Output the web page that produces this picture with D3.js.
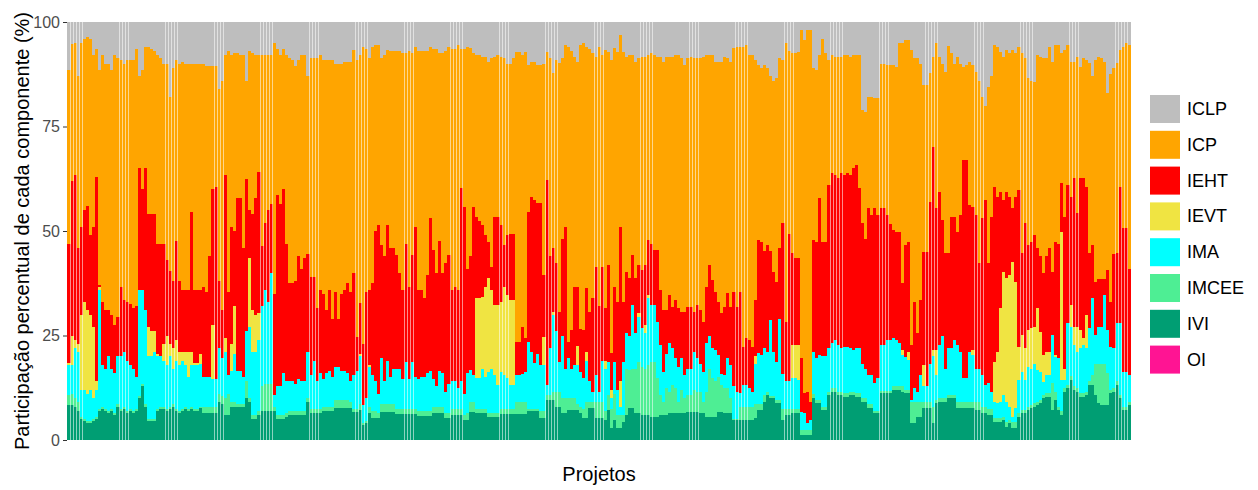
<!DOCTYPE html>
<html>
<head>
<meta charset="utf-8">
<script src="https://cdn.jsdelivr.net/npm/d3@7"></script>
<style>
  html, body { margin: 0; padding: 0; background: #ffffff; }
  svg { display: block; font-family: "Liberation Sans", Arial, Helvetica, sans-serif; }
</style>
</head>
<body>
<svg id="chart" width="1258" height="490"></svg>
<script>
// Components, in legend order (top of each stacked bar first)
const componentes = ["ICLP", "ICP", "IEHT", "IEVT", "IMA", "IMCEE", "IVI", "OI"];
const cores = ["#BEBEBE", "#FFA500", "#FF0000", "#F0E442", "#00FFFF", "#4EEE94", "#009E73", "#FF1493"];
const yTicks = [0, 25, 50, 75, 100];

// Share (%) of each component, one value per project
const ivi = [
  8.4,8.4,8,7,5,4.5,4,4,4.5,5,7,7.5,7,6.5,7,6,8,7,7.5,6.5,7,6.5,7,10,13,8,4.5,4.5,4.5,7,7.5,7.5,7,7.5,8,7,6.5,7,7.5,7,7.5,7,7,
  7.6,6.5,6.5,6.5,6.5,6.5,9,8.5,6,6,8,8,8,8,8,10,9,5,5,6,7,7,7,7,7,5,5,5,5.5,6,6,6,6,6,6,9,6.5,6.5,6.5,6.5,7,7,7,7,
  7.6,7.6,7.6,7.6,7.6,7.6,6.8,6.8,7.2,3.6,4,6.5,5.2,5.2,5.2,6.8,6.8,6.8,6.8,6.8,6.2,6.2,6.2,6.2,6.2,6.2,6.2,5.8,5.8,5.8,5.8,5.8,6.5,6.5,6.5,6.5,5.2,5.2,6,6,6,6,4.8,4.8,
  6.8,6.8,6.4,6.4,6.4,6.4,5.6,5.6,5.6,5.6,6.2,6.2,6.2,6.2,6.2,6.2,6.2,6.2,6.2,7,7,7,7,5.2,5.2,9.6,9.6,9.6,8,8,6.4,6.4,7.2,7.2,7.2,7.2,6.4,5.2,5.2,7.6,7.6,5.2,5.2,5.2,
  4.8,7.2,2.8,4.8,2.8,2.8,4.4,6,7.6,7.6,6.4,6.4,6,6,6,5.6,5.6,5.6,6,6,6,6.4,6.4,6.4,6.4,6.4,6.4,6.8,6.8,6.8,6.8,6.4,6.4,5.6,5.6,5.6,5.6,6.8,6.8,6.4,6.4,6.4,4.8,4.8,
  4.8,4.8,4.8,4.8,4.8,5.2,7.2,7.2,9.2,10.8,10,10,8.8,8.8,4.8,6,6,6.4,6.4,6.4,1.2,1.2,1.2,1.2,10,8.8,8.8,7.2,7.2,10.8,11.6,11.6,10.8,10.8,10.4,10.4,10.8,10.8,10.4,10.4,9.2,9.2,7.6,7.6,
  6.4,6.4,11.2,11.2,11.2,11.2,12,12,12,11.6,11.2,11.2,4,4,5.6,5.6,7.6,7.6,7.6,4,8.8,9.2,9.2,9.2,10,10,10,7.6,7.6,7.6,7.6,7.6,7.6,7.2,7.2,6.4,6.4,6,6,4.4,4.4,4.4,4.8,
  3.2,4,2.8,2.8,5.6,6.4,6.4,7.2,7.6,8,8.4,8.8,10,10.4,10.4,7.2,9.6,7.2,6,11.6,12.4,14.4,12,11.6,10.4,10.4,10.8,13.2,13.2,10.8,8.8,8.4,8.4,8.4,11.2,11.6,13.2,10,7.2,7.2,8.4
];

const imcee = [
  2.4,2.6,2,2,0.5,0.5,0.5,0.5,0.5,0.5, 0.5,0.5,0.5,0.5,0.5,0.5,0.5,0.5,0.5,0.5, 0.5,0.5,0.5,0.5,0.5,0.5,0.5,0.5,0.5,0.5, 0.5,0.5,0.5,0.5,0.5,0.5,0.5,0.5,0.5,0.5, 0.5,0.5,0.5,
  0.4,1.5,1.5,1.5,1.5,1.5,2,2,4,5,1,1,0.5,0.5,0.5,4,1,1,1,1,6,6.5,6.5,6.5,1,1,1,1,1,1,1,1,1,1,1,1,1,1,1,1,1,1,1,1,
  1.9,1.9,1.9,1.9,1.9,1.4,0.7,0.7,1.3,0.4,0.5,1.5,1.8,1.8,1.3,1.7,1.7,1.7,1.7,1.7,1.3,1.3,1.3,1.3,1.3,1.3,1.3,1.2,1.2,1.2,1.2,1.2,1.5,1.5,1.5,1.5,1.3,1.3,1.5,1.5,1.5,1.5,1.2,1.7,
  2.2,2.2,1.1,1.1,1.1,1.1,0.9,0.9,0.9,0.9,1.3,1.3,1.3,1.3,1.3,2.8,2.8,2.8,2.8,0.5,0.5,0.5,0.5,1.8,1.8,1.2,1.2,1.9,3.5,3.5,3.6,3.6,2.8,2.8,2.8,1.3,1.6,2.3,3.8,1.4,1.4,3.8,3.8,3.8,
  2.2,3.6,4.7,6.2,3.2,3.2,1.6,11,9.1,9.4,10.6,12.3,11.5,11,11.9,13.1,13.1,9.2,4.8,3.2,6.4,5.2,6.8,6,2.8,5.6,3.6,4,4,5.2,4.8,5.2,2.8,6,11.4,9.2,8.4,8.3,6.4,6,6,3.6,0.2,0.2,
  3.2,3.2,3.2,3.2,3.2,3.3,1.3,1.3,1.6,0.8,0.5,0.5,0.7,0.7,2.7,1.5,1.5,1.1,1.1,1.1,1.2,1.2,1.2,1.2,1,0.7,0.7,0.8,0.8,0.7,0.8,0.8,0.8,0.8,0.8,0.8,0.8,0.8,0.8,0.8,0.8,0.8,0.9,0.9,
  0.6,0.6,0.6,0.6,0.6,0.6,0.8,0.8,0.8,1.4,0.8,0.8,5,5,3.4,3.4,1.4,1.4,1.4,4,0.7,0.8,0.8,0.8,0.8,0.8,0.8,1.4,1.4,1.4,1.4,1.4,1.4,1.8,1.8,1.6,1.6,1.5,1.5,0.8,0.8,0.8,0.7,
  1.2,0.8,1.6,1.6,0.9,0.8,0.8,0.8,0.8,0.8,0.8,0.8,0.8,0.8,0.8,6.4,2,0.8,1,0.8,0.8,0.8,0.8,0.8,0.8,0.8,0.8,0.8,2.3,7.5,9.5,9.9,9.9,7.6,0.8,0.8,0.8,0.8,0.8,0.8,0.8
];

const ima = [
  7.2,7,12,12,6.5,7,6.5,7.5,5,6.5,28.5,10,9.5,13,9.5,9.5,11.5,12.5,13,12,10.5,10,7.5,25.5,22.5,22.5,15,15,16,12.5,12,11,10.5,12,8.5,11.5,11,11.5,10,7.5,10,10.5,10.5,
  10.3,7,7,7,6.5,6.5,11,9,11,4.5,7.5,11.5,8,8,6.5,12,17,15,15,17,19,22.5,19.5,26.5,2.8,7,7,10,7.5,7,7,6.5,7.5,7,7,11,8,11.5,6.5,8.5,6.5,8,8.5,7,
  8,8,7,7,6.5,5,8,9,11.5,4.4,5.5,9.5,8.5,7,4.5,11,5.5,10.5,6.5,8.5,9.5,9.5,7,11.2,7,11.2,7.5,7.5,8,8,9,9.5,6.5,5,8.5,8,5,7,6.5,6.5,5,6.5,5,9.5,
  7.7,6.5,7.3,7.3,9.5,7.5,9.7,10.5,9,6.7,8.7,8,7.3,5.7,5.7,6.5,6.5,6.9,7.3,16,13.5,11,13,10.9,11,2.4,11.1,18.4,14.5,7.2,15,7,9.5,7,7.9,9.4,8.3,7.3,10,5,2.5,6.5,2.5,10,
  10.1,7.9,2.5,7.7,6,2,12.7,8.5,8.3,15.3,8.5,10.8,9.2,8.5,16,13.6,13.6,13.5,11.9,7.1,8.1,11.5,8.7,7.1,8.3,7.5,5.5,6.3,6.3,9,7.9,6.7,7.1,11.5,8,7.1,7.5,5.2,2.7,3.1,7.1,7.9,7.8,6.6,
  3.2,5.2,5.2,4.4,3.6,9.8,12.2,11.8,11.1,9.4,18.2,10.5,9.2,19.5,8.4,6.5,6.5,7.3,7.3,6.9,4.4,4,1.6,2.4,10,10,10.8,12,12,10.4,10.7,11.5,11.1,10.3,11.1,11.1,10.3,9.9,10.7,10.7,8.3,7.1,7,7,
  6.6,7.8,10.9,10.9,12.1,12.1,11.5,11.1,10.3,7.3,7.9,7.1,0.6,3.4,2.6,6.5,3.8,3.8,9.3,12,6,12.7,15,7.1,11.1,11.1,13.1,13.7,12,5.8,5.8,12,11.3,8.1,8.1,7.5,5.2,6.1,4.1,4,3.6,4,5.3,
  4.8,3.2,1.2,3.2,7.9,9.1,7.2,9.5,8.7,9.5,7.5,6.7,3.1,4.3,4.3,11.5,8.3,11.5,7.4,2,14.7,11.9,9.9,8.6,10.7,11.5,10.3,12.7,18.4,6.8,8.8,8.8,16.4,10.3,10.3,9.5,13.9,17.1,8.3,8.3,6.3
];

const ievt = [
  0.5,7,2,2,18,21,20,18,17,2, 0.5,0,0,0,0,0,0,0,0,0, 0,0,0,0,0,0,7,6,5,0.5, 0,4,7,3,5,5,3,2,3,6, 3,0.5,0.5,
  2.2,0,0,0,13,0,0,0,3.5,0, 6.5,11.5,0,0,0,0,16.5,10,9,6.5, 0,0,0,0,0,0,0,0,0,0, 0,0,0,0,0,0,0,0,0,0, 0,0,0,0,
  0,0,0,0,0,0,0,0,0.5,0, 0,0.5,0,0,0,0,0,0,0,0, 0,0,0,0,0,0,0,0,0,0, 0,0,0,0,0,0,0,0,0,0, 0,0,0,0,
  0,0,19.1,19.1,17.3,21.7,22.5,18.9,16.8,19.1, 16.8,21.2,19.9,20.3,20.3,0,0,0,0,0, 0,0,0,0,6.7,0,0,0.8,0,0, 0,0,0,0,0,4.6,0,0,2,0, 0,0,0,0,
  1.9,0,2,0,0,6,0,0,0,0, 0,0.8,0,2,0.8,0,0,0,0,0, 0,0,0,0,0,0,0,0,0,0, 0,0,0,0,0,0,0,0,0,0, 0,0,0,0,
  0,0,0,0,0,1.7,0,0,0,0, 0,0,0,0,0,0,0,7.9,7.9,8.3, 0,0,0,0,0,0,0,0,0,0, 0,0,0,0,0,0,0,0,0,0, 0,0,0,0,
  0,0,0,0,0,0,0,0,0,1.2, 0,1.9,0,0,0,0,5.1,0,0,1.5, 6,0,0,0,0,0,0,0,0,0, 0,0,1.2,0,0,0,0,0,0,9.5, 12.2,22.3,29.5,
  29.5,31.5,37.1,30.3,7.9,8.8,7.5,8.8,9.6,8.8, 14.8,9.6,6.4,5.5,5.5,0,0.4,0,35.4,2.7, 0,5.2,4.4,6.1,4.4,1.6,8,0,0,0, 0,0,0,0,0,0,0,0,0,0, 0
];

const ieht = [
  28.5,37,39.5,23,21,22,25,19,24,49,0.5,15,14,11,13,11.5,9.5,16.5,12.5,14,14.5,14.5,17,29,24,34,27,28,28,26.5,27,24,18,17.5,16,23.5,17,15,15,15,33.5,17.5,17.5,
  15.5,21.5,20.5,29,32.5,46,16,11.5,39,20,28,18,41.5,41.5,31,36.5,11.5,23,28,33.5,14.5,16,22,16.5,24.2,45.5,43.5,44,33,23.5,23.5,24.5,29.5,27,29.5,23.5,23.5,20,17.5,20,20.5,15,19.5,14,
  18,11.5,18.5,19.5,21.5,21.5,24.5,8.2,12.2,14.6,25.5,18,22,36,40.5,27.2,30,32.5,31,29,27.3,23,21.5,28.3,22.2,25.6,36,21.5,21,19,23.5,36.5,31,27,31,24,30.8,30.8,22,22.7,23.5,46.2,44.8,25,
  27.3,40.3,19.5,18.6,17.1,12.3,8.7,5.6,21.1,21.1,18.4,9.9,14.3,15.9,15.9,8,8,11.1,8.2,31.1,37.2,38.9,36.1,38.7,14.8,49,22,15.2,16.3,12,23.2,34,4,9.3,18.8,14.2,10.2,11.5,15.3,16.7,22.4,26,20.5,22.5,
  12.5,23.2,8.7,18,21,37,14.3,14.8,13.7,12,13.2,11.6,14,14.4,13.1,14.7,13.2,17.2,13.2,14.8,10.6,11.6,10,14,14,11.2,15.2,14.8,14.8,9.7,12.8,12.8,12,13.6,16.9,16.4,14,12.7,14.4,16.4,15.6,14,22.7,20.3,
  24.3,9.1,11.1,11.6,10.7,13.5,27.1,27.1,23.2,25.7,16.4,19.3,19.2,16.9,35.9,14.3,35.4,22,20.8,20.8,12.7,4.8,7.6,4.4,26.8,27.9,37.5,27.4,27.4,39.1,40.7,39.5,39.9,41.9,41.1,41.5,41.5,43.5,43.9,38.3,33.5,31.1,39.9,38.3,
  41.8,39,32.7,32.7,29.9,27.7,25.9,25.9,26.7,16,26.7,26.4,13.1,20.6,13.9,18,27.1,32.2,38.7,48.7,33.9,36.7,27.6,27.6,22.8,31.5,29.5,27.1,32.8,52.2,52.2,35.2,34.3,36.7,25.2,37.5,44.2,28.7,41.8,41.9,37.2,27.9,17.1,
  20.7,18.7,12.7,20.3,37.5,19.6,30.1,20.3,20.7,21.9,14.4,18,19.6,23,24.9,15.2,27.1,27.5,11.6,36.3,33.1,25.9,35.5,27.1,36.3,38.3,30.7,18,12.7,12.8,11.5,11.5,3.9,14.4,10.7,22.5,16.8,32.7,34.3,34.3,25.5
];

const icp = [
  41.5,32.7,31.5,41,44,41,40.5,47,41,30.5,51.5,59,59,59,58.5,64.5,62,54.5,56.5,58,58.5,59.5,61.5,22,28.5,29,40,39.5,39,45,44.5,43,47,41.5,51,43.5,52,54.5,54,54,35.5,54,54,
  54,53.5,54,45.5,29.5,29,46,55,28.5,57.5,41,42.5,34.5,34,46,23.5,38,38.5,34,28,45.5,40,37,35.5,60,35,35.5,33.5,45,54,53.5,51.5,47,51,48.5,42.5,52.5,52.5,60,56,56,60,55,62,
  54.5,61,55,54.5,53,55,53.3,66.1,59.3,71,58,55.5,56.5,44.5,43,44.8,48,41.8,47,47,48.7,53,56.5,45.5,56.3,48.2,43,57,57,59,53.5,41,48,53.5,45,52.5,50.7,49.7,57.5,56.8,58.5,33.3,37.7,53,
  49.7,36.7,38.6,39.5,40.3,42.7,43.1,49.8,38.3,38.6,40.3,44.7,41,40.6,41.9,69.3,69.3,65,68.3,35.1,32.3,33.1,33.1,33.1,50.5,30.6,47.4,41.8,48.7,59.6,43.1,43.5,70.5,66.7,55,53.8,68,68.7,57.7,62.8,58.6,50.2,62,50.5,
  61.8,50.9,70.3,57,59.8,45.9,59.8,51.4,53.3,47.7,51.8,49.4,51,49.8,44.2,45.5,46.5,46.2,55.8,59.4,60.6,57,59.8,58.5,60.5,60.6,59,59.4,59.8,60.6,59,60.2,63.4,55.3,50.1,53.7,55,57.5,60.2,59.8,56.2,58.6,58.2,62.1,
  58.5,71.7,70.2,68,69.7,57.5,41.9,41.6,44.6,42.3,41.9,45.7,48.6,45.4,39.2,66.6,43.6,47.8,49,49.3,78.5,84.5,86.4,88.8,41.1,41.1,34.2,48.6,45.1,30,28.2,28.3,29.1,27.9,28.6,28.2,28.3,27,26.2,31.8,27.2,30.3,26.6,28.2,
  26.3,27.9,34.6,34.6,35.9,38.1,39.5,39.5,45.1,57.4,49.1,48.3,70.6,58.3,65.8,56.5,40,40,30.7,21.5,39.5,32.3,37.4,43.3,49.6,39.1,36.6,41.9,36.2,22.3,22.7,34.3,33.9,34.2,43.7,29,22.6,42.2,33.6,33.9,35.8,33.4,34.3,
  33.9,34.3,37.9,34.3,34.2,47.8,39.3,39.9,38.6,36.7,46.1,47.8,51.4,47.3,48.1,50.2,47.1,47.5,31.1,39.9,33.5,32.3,27.9,37.5,26.7,28.7,30.4,45.6,40.4,53.1,53.1,52.7,51.9,42.3,54.5,44.5,45.6,32.7,43.4,44.4,53.5
];

const iclp = [
  11.5,5.3,5,13,5,4,3.5,4,8,6.5,11.5,8,10,10,11.5,8,8.5,9,10,9,9,9,6.5,13,11.5,6,6,6.5,7,8,8.5,10,10,18,11,9,10,9.5,10,10,10,10,10,
  10,10,10.5,10.5,10.5,10.5,16,14,8,7,8,7.5,7.5,8,8,14,7,7.5,8,8,8,8,8,8,5,6.5,8,6.5,8,8.5,9,10.5,9,8,8,13,8.5,8.5,8.5,8,9,9,9,9,
  10,10,10,9.5,9.5,9.5,6.7,9.2,8,6,6.5,8.5,6,5.5,5.5,8.5,8,6.7,7,7,7,7,7.5,7.5,7,7.5,6,7,7,7,7,6,6.5,6.5,7.5,7.5,7,6,6.5,6.5,5.5,6.5,6.5,6,
  6.3,7.5,8,8,8.3,8.3,9.5,8.7,8.3,8,8.3,8.7,10,10,8.7,7.2,7.2,8,7.2,10.3,9.5,9.5,10.3,10.3,10,7.2,8.7,12.3,9,9.7,8.7,5.5,6,7,8.3,9.5,5.5,5,6,6.5,7.5,8.3,6,8,
  6.7,7.2,9,6.3,7.2,3.1,7.2,8.3,8,8,9.5,8.7,8.3,8.3,8,7.5,8,8.3,8.3,9.5,8.3,8.3,8.3,8,8,8.7,10.3,8.7,8.3,8.7,8.7,8.7,8.3,8,8,8,9.5,9.5,9.5,8.3,8.7,9.5,6.3,6,
  6,6,5.5,8,8,9,10.3,11,10.3,11,13,14,13.5,8.7,9,5.1,7,7.5,7.5,7.2,2,4.3,2,2,11.1,11.5,8,4,7.5,9,8,8.3,8.3,8.3,8,8,8.3,8,8,8,21,21.5,18,18,
  18.3,18.3,10,10,10.3,10.3,10.3,10.7,5.1,5.1,4.3,4.3,6.7,8.7,8.7,10,15,15,12.3,8.3,5.1,8.3,10,12,5.7,7.5,10,8.3,10,10.7,10.3,9.5,10.3,12,14,18,20,15.5,13,5.5,6,7.2,8.3,
  6.7,7.5,6.7,7.5,6,7.5,8.7,13.5,14,14.3,8,8.3,8.7,8.7,6,9.5,5.5,5.5,7.5,6.7,5.5,9.5,9.5,8.3,10.7,8.7,9,9.7,13,9,8.3,8.7,9.5,17,12.5,11.1,9.7,6.7,6,5,5.5
];

// OI has no measurable share in any project (legend entry only)
const oi = [];

const series = { ICLP: iclp, ICP: icp, IEHT: ieht, IEVT: ievt, IMA: ima, IMCEE: imcee, IVI: ivi, OI: oi };

// ---- layout ----
const W = 1258, H = 490;
const panel = { left: 67, right: 1131, top: 22, bottom: 440 };

const projetos = ivi.map((_, i) => i + 1);
const linhas = projetos.map((p, i) => {
  const row = { projeto: p };
  componentes.forEach(k => { row[k] = series[k][i] || 0; });
  return row;
});

// Bottom-to-top stacking order (reverse of legend order)
const ordemPilha = componentes.slice().reverse();
const pilha = d3.stack()
  .keys(ordemPilha)
  .offset(d3.stackOffsetExpand)(linhas);

const cor = d3.scaleOrdinal().domain(componentes).range(cores);

const x = d3.scaleBand()
  .domain(projetos)
  .range([panel.left, panel.right])
  .paddingInner(0.1)
  .paddingOuter(0.15);

const y = d3.scaleLinear()
  .domain([0, 1])
  .range([panel.bottom, panel.top]);

const svg = d3.select("#chart");

svg.append("rect")
  .attr("x", 0).attr("y", 0).attr("width", W).attr("height", H)
  .attr("fill", "#ffffff");

// Faint full-step layer under the bars so the thin gaps between bars read as light tints
const fundo = svg.append("g")
  .attr("opacity", 0.45)
  .selectAll("g")
  .data(pilha)
  .join("g")
  .attr("fill", d => cor(d.key));

fundo.selectAll("rect")
  .data(d => d)
  .join("rect")
  .attr("shape-rendering", "crispEdges")
  .attr("x", d => x(d.data.projeto))
  .attr("width", x.step())
  .attr("y", d => y(d[1]))
  .attr("height", d => Math.max(0, y(d[0]) - y(d[1])));

// Stacked bars
const camadas = svg.append("g")
  .selectAll("g")
  .data(pilha)
  .join("g")
  .attr("fill", d => cor(d.key));

camadas.selectAll("rect")
  .data(d => d)
  .join("rect")
  .attr("shape-rendering", "crispEdges")
  .attr("x", d => x(d.data.projeto))
  .attr("width", x.bandwidth())
  .attr("y", d => y(d[1]))
  .attr("height", d => Math.max(0, y(d[0]) - y(d[1])));

// Y axis
const eixoY = svg.append("g")
  .attr("transform", `translate(${panel.left},0)`)
  .call(d3.axisLeft(y)
    .tickValues(yTicks.map(v => v / 100))
    .tickFormat(v => Math.round(v * 100))
    .tickSize(4)
    .tickPadding(3));
eixoY.select(".domain").remove();
eixoY.selectAll(".tick line").attr("stroke", "#333333").attr("stroke-width", 1);
eixoY.selectAll(".tick text")
  .attr("fill", "#4D4D4D")
  .style("font-size", "16px")
  .style("font-family", "'Liberation Sans', Arial, sans-serif");

// Axis titles
svg.append("text")
  .attr("transform", `translate(22,${(panel.top + panel.bottom) / 2}) rotate(-90)`)
  .attr("text-anchor", "middle")
  .attr("dominant-baseline", "central")
  .attr("fill", "#000000")
  .style("font-size", "20px")
  .text("Participação percentual de cada componente (%)");

svg.append("text")
  .attr("x", (panel.left + panel.right) / 2)
  .attr("y", 474)
  .attr("text-anchor", "middle")
  .attr("dominant-baseline", "central")
  .attr("fill", "#000000")
  .style("font-size", "20px")
  .text("Projetos");

// Legend
const passo = 35.8;
const legenda = svg.append("g").attr("transform", "translate(1150,95)");
const itens = legenda.selectAll("g")
  .data(componentes)
  .join("g")
  .attr("transform", (d, i) => `translate(0,${i * passo})`);
itens.append("rect")
  .attr("width", 30).attr("height", 28)
  .attr("fill", d => cor(d));
itens.append("text")
  .attr("x", 37).attr("y", 14)
  .attr("dominant-baseline", "central")
  .attr("fill", "#000000")
  .style("font-size", "18px")
  .text(d => d);
</script>
</body>
</html>
